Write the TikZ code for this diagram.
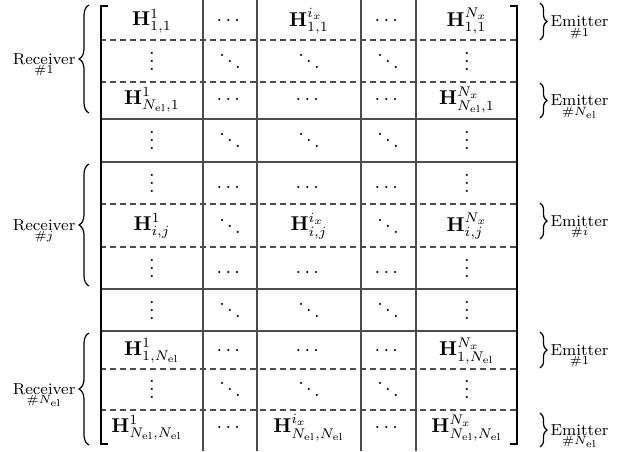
\documentclass[tikz,border=0pt]{standalone}
\usepackage{amsmath, amssymb}
\usetikzlibrary{positioning,decorations.pathreplacing}
\newcommand{\Hb}[2]{\mathbf{H}^{#1}_{#2}}
\newcommand{\Nel}{N_{\mathrm{el}}}
\newcommand{\vd}{\raisebox{0pt}[9pt][0pt]{$\vdots$}}
\newcommand{\dd}{\raisebox{0pt}[9pt][0pt]{$\ddots$}}
\newcommand{\cd}{\raisebox{0pt}[9pt][0pt]{$\cdots$}}

\begin{document}
\begin{tikzpicture}[x=0.5pt,y=-0.5pt,
    every node/.style={font=\footnotesize},
    cell/.style={inner sep=0pt,font=\normalsize},
    gline/.style={black!70,line width=0.6pt},
    dline/.style={black!70,line width=0.6pt,dash pattern=on 3pt off 2pt},
    bracket/.style={black,line width=0.8pt},
    rbrace/.style={decorate,decoration={brace,amplitude=5pt},line width=0.6pt},
    ebrace/.style={decorate,decoration={brace,amplitude=3.5pt},line width=0.6pt},
    lab/.style={inner sep=0.5pt},
    sublab/.style={inner sep=0.5pt,font=\fontsize{6}{7}\selectfont},
  ]
  \useasboundingbox (0,0) rectangle (632,451);
  % grid
  \foreach \x in {203,257,361,416}
    \draw[gline] (\x,0) -- (\x,451);
  \foreach \y in {119,162,289,331}
    \draw[gline] (100,\y) -- (518,\y);
  \foreach \y in {40,82,204,247,369,410}
    \draw[dline] (100,\y) -- (518,\y);
  \draw[bracket] (108,6) -- (101,6) -- (101,444) -- (108,444);
  \draw[bracket] (510,6) -- (517,6) -- (517,444) -- (510,444);
  % blocks
  \foreach \xx/\txt [count=\c] in {152/{\Hb{1}{1,1}},230/\cdots,309/{\Hb{i_x}{1,1}},388/\cdots,467/{\Hb{N_x}{1,1}}}
    \node[cell] (r1c\c) at (\xx,21) {$\txt$};
  \foreach \xx/\txt [count=\c] in {152/{\Hb{1}{\Nel,1}},230/\cdots,309/\cdots,388/\cdots,467/{\Hb{N_x}{\Nel,1}}}
    \node[cell] (r3c\c) at (\xx,100) {$\txt$};
  \foreach \xx/\txt [count=\c] in {152/{\Hb{1}{i,j}},230/\dd,309/{\Hb{i_x}{i,j}},388/\dd,467/{\Hb{N_x}{i,j}}}
    \node[cell] (r6c\c) at (\xx,226) {$\txt$};
  \foreach \xx/\txt [count=\c] in {152/{\Hb{1}{1,\Nel}},230/\cdots,309/\cdots,388/\cdots,467/{\Hb{N_x}{1,\Nel}}}
    \node[cell] (r9c\c) at (\xx,351) {$\txt$};
  \foreach \xx/\txt [count=\c] in {147/{\Hb{1}{\Nel,\Nel}},230/\cdots,309/{\Hb{i_x}{\Nel,\Nel}},388/\cdots,467/{\Hb{N_x}{\Nel,\Nel}}}
    \node[cell] (r11c\c) at (\xx,428) {$\txt$};
  \foreach \r/\yy in {2/61,4/140,8/310,10/389} {
    \foreach \xx/\txt [count=\c] in {152/\vd,230/\dd,309/\dd,388/\dd,467/\vd}
      \node[cell] (r\r c\c) at (\xx,\yy) {$\txt$};
  }
  \foreach \r/\yy in {5/183,7/268} {
    \foreach \xx/\txt [count=\c] in {152/\vd,230/\cd,309/\cd,388/\cd,467/\vd}
      \node[cell] (r\r c\c) at (\xx,\yy) {$\txt$};
  }
  % receivers
  \foreach \n/\ya/\yb/\idx in {1/5/113/1,j/164/286/j,N/333/445/\Nel} {
    \coordinate (rtop\n) at (89,\ya);
    \coordinate (rbot\n) at (89,\yb);
    \draw[rbrace] (rbot\n) -- (rtop\n) node[midway,left=6pt,lab] (rx\n) {Receiver};
    \node[below=-1pt of rx\n,sublab] (rx\n s) {$\#\idx$};
  }
  % emitters
  \foreach \n/\ya/\yb/\idx in {a/3/40/1,b/83/118/\Nel,c/203/239/i,d/332/368/1,e/413/447/\Nel} {
    \coordinate (etop\n) at (540,\ya);
    \coordinate (ebot\n) at (540,\yb);
    \draw[ebrace] (etop\n) -- (ebot\n) node[midway,right=4.5pt,lab] (ex\n) {Emitter};
    \node[below=-1pt of ex\n,sublab] (ex\n s) {$\#\idx$};
  }
\end{tikzpicture}
\end{document}
